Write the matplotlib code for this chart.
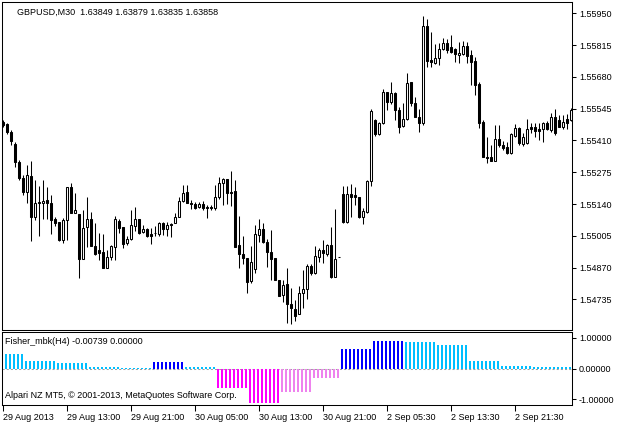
import numpy as np
import matplotlib
matplotlib.use("Agg")
import matplotlib.pyplot as plt

# GBPUSD M30 bars (open / high / low / close)
open_ = [
    1.55488, 1.55480, 1.55446, 1.55395, 1.55318, 1.55250, 1.55191, 1.55259,
    1.55085, 1.55144, 1.55144, 1.55157, 1.55144, 1.55076, 1.55063, 1.54987,
    1.55072, 1.55212, 1.55102, 1.55097, 1.54906, 1.55042, 1.55076, 1.54961,
    1.54944, 1.54936, 1.54868, 1.54915, 1.54957, 1.55068, 1.55042, 1.54974,
    1.54991, 1.55046, 1.55076, 1.55021, 1.55034, 1.55012, 1.55017, 1.55012,
    1.55059, 1.55034, 1.55055, 1.55059, 1.55085, 1.55153, 1.55191, 1.55144,
    1.55140, 1.55127, 1.55140, 1.55127, 1.55127, 1.55123, 1.55170, 1.55229,
    1.55246, 1.55191, 1.55195, 1.54966, 1.54927, 1.54910, 1.54813, 1.54864,
    1.55008, 1.55034, 1.54978, 1.54936, 1.54910, 1.54817, 1.54753, 1.54800,
    1.54715, 1.54694, 1.54672, 1.54762, 1.54779, 1.54876, 1.54847, 1.54915,
    1.54944, 1.54927, 1.54966, 1.54830, 1.54915, 1.55182, 1.55063, 1.55182,
    1.55178, 1.55170, 1.55085, 1.55106, 1.55238, 1.55497, 1.55437, 1.55484,
    1.55616, 1.55573, 1.55612, 1.55539, 1.55471, 1.55501, 1.55658, 1.55569,
    1.55510, 1.55484, 1.55896, 1.55752, 1.55739, 1.55760, 1.55799, 1.55824,
    1.55807, 1.55799, 1.55773, 1.55777, 1.55811, 1.55773, 1.55748, 1.55650,
    1.55488, 1.55340, 1.55340, 1.55323, 1.55416, 1.55391, 1.55382, 1.55357,
    1.55429, 1.55463, 1.55395, 1.55399, 1.55467, 1.55467, 1.55459, 1.55459,
    1.55484, 1.55454, 1.55510, 1.55497, 1.55467, 1.55501, 1.55497,
]
high = [
    1.55497, 1.55484, 1.55454, 1.55403, 1.55327, 1.55263, 1.55306, 1.55323,
    1.55242, 1.55216, 1.55242, 1.55212, 1.55178, 1.55085, 1.55063, 1.55080,
    1.55212, 1.55229, 1.55187, 1.55097, 1.55114, 1.55170, 1.55106, 1.55059,
    1.55017, 1.55012, 1.54944, 1.54966, 1.55089, 1.55076, 1.55042, 1.55004,
    1.55114, 1.55127, 1.55076, 1.55051, 1.55038, 1.55038, 1.55046, 1.55063,
    1.55063, 1.55063, 1.55059, 1.55102, 1.55170, 1.55221, 1.55221, 1.55157,
    1.55148, 1.55148, 1.55153, 1.55136, 1.55136, 1.55221, 1.55255, 1.55250,
    1.55246, 1.55280, 1.55242, 1.55089, 1.55004, 1.54910, 1.54961, 1.55051,
    1.55076, 1.55059, 1.54991, 1.55029, 1.54910, 1.54817, 1.54817, 1.54868,
    1.54783, 1.54732, 1.54791, 1.54859, 1.54885, 1.54885, 1.54961, 1.54953,
    1.54987, 1.54970, 1.55042, 1.55119, 1.54915, 1.55216, 1.55216, 1.55225,
    1.55212, 1.55170, 1.55123, 1.55242, 1.55544, 1.55501, 1.55488, 1.55629,
    1.55616, 1.55658, 1.55616, 1.55552, 1.55569, 1.55697, 1.55658, 1.55595,
    1.55544, 1.55939, 1.55926, 1.55871, 1.55820, 1.55824, 1.55845, 1.55841,
    1.55858, 1.55803, 1.55828, 1.55833, 1.55828, 1.55794, 1.55765, 1.55658,
    1.55497, 1.55425, 1.55391, 1.55476, 1.55476, 1.55408, 1.55403, 1.55442,
    1.55480, 1.55467, 1.55442, 1.55501, 1.55484, 1.55484, 1.55484, 1.55488,
    1.55493, 1.55527, 1.55544, 1.55518, 1.55518, 1.55522, 1.55548,
]
low = [
    1.55467, 1.55437, 1.55391, 1.55297, 1.55242, 1.55178, 1.55144, 1.54983,
    1.55072, 1.55004, 1.55076, 1.55076, 1.55012, 1.55046, 1.54983, 1.54974,
    1.54987, 1.55102, 1.55102, 1.54825, 1.54906, 1.54957, 1.54961, 1.54923,
    1.54902, 1.54868, 1.54868, 1.54902, 1.54902, 1.55017, 1.54953, 1.54966,
    1.54987, 1.55025, 1.55012, 1.55017, 1.55000, 1.54970, 1.55004, 1.55004,
    1.55008, 1.55004, 1.55000, 1.55059, 1.55085, 1.55148, 1.55144, 1.55119,
    1.55119, 1.55123, 1.55114, 1.55080, 1.55114, 1.55114, 1.55161, 1.55136,
    1.55140, 1.55131, 1.54957, 1.54868, 1.54885, 1.54762, 1.54804, 1.54847,
    1.54978, 1.54974, 1.54872, 1.54817, 1.54817, 1.54749, 1.54723, 1.54634,
    1.54630, 1.54643, 1.54672, 1.54698, 1.54736, 1.54838, 1.54842, 1.54893,
    1.54889, 1.54919, 1.54825, 1.54830, 1.54915, 1.55059, 1.55059, 1.55085,
    1.55136, 1.55080, 1.55055, 1.55102, 1.55216, 1.55429, 1.55433, 1.55480,
    1.55539, 1.55565, 1.55497, 1.55442, 1.55467, 1.55497, 1.55556, 1.55510,
    1.55446, 1.55476, 1.55722, 1.55722, 1.55735, 1.55731, 1.55794, 1.55782,
    1.55782, 1.55743, 1.55739, 1.55773, 1.55739, 1.55646, 1.55603, 1.55463,
    1.55340, 1.55314, 1.55323, 1.55323, 1.55382, 1.55369, 1.55352, 1.55352,
    1.55425, 1.55391, 1.55386, 1.55395, 1.55442, 1.55425, 1.55412, 1.55403,
    1.55454, 1.55446, 1.55433, 1.55467, 1.55459, 1.55459, 1.55493,
]
close = [
    1.55476, 1.55446, 1.55408, 1.55318, 1.55250, 1.55191, 1.55263, 1.55085,
    1.55144, 1.55148, 1.55153, 1.55144, 1.55072, 1.55059, 1.54987, 1.55072,
    1.55212, 1.55102, 1.55114, 1.54906, 1.55038, 1.55076, 1.54961, 1.54927,
    1.54932, 1.54868, 1.54915, 1.54961, 1.55076, 1.55038, 1.54970, 1.54991,
    1.55051, 1.55076, 1.55017, 1.55034, 1.55004, 1.55004, 1.55015, 1.55059,
    1.55034, 1.55051, 1.55051, 1.55085, 1.55153, 1.55187, 1.55144, 1.55140,
    1.55123, 1.55140, 1.55123, 1.55123, 1.55123, 1.55170, 1.55229, 1.55246,
    1.55187, 1.55187, 1.54957, 1.54927, 1.54910, 1.54808, 1.54893, 1.55012,
    1.55034, 1.54978, 1.54936, 1.54906, 1.54817, 1.54749, 1.54796, 1.54715,
    1.54698, 1.54664, 1.54762, 1.54779, 1.54876, 1.54847, 1.54919, 1.54944,
    1.54932, 1.54966, 1.54830, 1.54906, 1.54915, 1.55063, 1.55182, 1.55170,
    1.55170, 1.55085, 1.55110, 1.55238, 1.55535, 1.55437, 1.55484, 1.55616,
    1.55573, 1.55612, 1.55539, 1.55467, 1.55501, 1.55654, 1.55569, 1.55510,
    1.55484, 1.55896, 1.55748, 1.55743, 1.55760, 1.55799, 1.55824, 1.55794,
    1.55786, 1.55777, 1.55782, 1.55811, 1.55769, 1.55743, 1.55646, 1.55484,
    1.55340, 1.55335, 1.55323, 1.55416, 1.55391, 1.55378, 1.55357, 1.55437,
    1.55463, 1.55399, 1.55425, 1.55459, 1.55459, 1.55450, 1.55450, 1.55484,
    1.55459, 1.55510, 1.55442, 1.55467, 1.55488, 1.55484, 1.55539,
]

# Fisher_mbk(H4) value shown under every M30 bar
fisher = [
    0.48, 0.48, 0.48, 0.48, 0.48, 0.48,
    0.26, 0.26, 0.26, 0.26, 0.26, 0.26, 0.26, 0.26,
    0.17, 0.17, 0.17, 0.17, 0.17, 0.17, 0.17, 0.17,
    0.065, 0.065, 0.065, 0.065, 0.065, 0.065, 0.065, 0.065,
    0.03, 0.03, 0.03, 0.03, 0.03, 0.03, 0.03, 0.03,
    0.21, 0.21, 0.21, 0.21, 0.21, 0.21, 0.21, 0.21,
    0.035, 0.035, 0.035, 0.035, 0.035, 0.035, 0.035, 0.035,
    -0.64, -0.64, -0.64, -0.64, -0.64, -0.64, -0.64, -0.64,
    -1.13, -1.13, -1.13, -1.13, -1.13, -1.13, -1.13, -1.13,
    -0.77, -0.77, -0.77, -0.77, -0.77, -0.77, -0.77, -0.77,
    -0.31, -0.31, -0.31, -0.31, -0.31, -0.31, -0.31,
    0.63, 0.63, 0.63, 0.63, 0.63, 0.63, 0.63, 0.63,
    0.89, 0.89, 0.89, 0.89, 0.89, 0.89, 0.89, 0.89,
    0.86, 0.86, 0.86, 0.86, 0.86, 0.86, 0.86, 0.86,
    0.76, 0.76, 0.76, 0.76, 0.76, 0.76, 0.76, 0.76,
    0.25, 0.25, 0.25, 0.25, 0.25, 0.25, 0.25, 0.25,
    0.075, 0.075, 0.075, 0.075, 0.075, 0.075, 0.075, 0.075,
    0.04, 0.04, 0.04, 0.04, 0.04, 0.04, 0.04, 0.04, 0.04, 0.04,
]

price_ticks = [1.55950, 1.55815, 1.55680, 1.55545, 1.55410, 1.55275,
               1.55140, 1.55005, 1.54870, 1.54735]
time_pos = [0, 16, 32, 48, 64, 80, 96, 112, 128]
time_labels = ["29 Aug 2013", "29 Aug 13:00", "29 Aug 21:00", "30 Aug 05:00",
               "30 Aug 13:00", "30 Aug 21:00", "2 Sep 05:30", "2 Sep 13:30",
               "2 Sep 21:30"]

plt.rcParams["font.family"] = ["Liberation Sans", "DejaVu Sans"]
FS = 6.5
LW = 0.75

W, H = 621, 423
fig = plt.figure(figsize=(W / 100, H / 100), dpi=100)

def box(x0, y0, x1, y1):
    return [x0 / W, 1 - y1 / H, (x1 - x0) / W, (y1 - y0) / H]

ax = fig.add_axes(box(2, 2, 572, 330))
ax2 = fig.add_axes(box(2, 332, 572, 405))

# candles
o = np.array(open_)
c = np.array(close)
idx = np.arange(len(c))
ax.vlines(idx, low, high, color="black", lw=LW, zorder=1)
body_col = ["white" if cc >= oo else "black" for oo, cc in zip(o, c)]
ax.bar(idx, np.abs(c - o), bottom=np.minimum(o, c), width=0.5,
       color=body_col, edgecolor="black", linewidth=LW, zorder=2)

ax.set_xlim(-0.25, 142.25)
ax.set_ylim(1.546045, 1.559985)
ax.set_xticks([])
ax.yaxis.tick_right()
ax.set_yticks(price_ticks)
ax.set_yticklabels(["%.5f" % t for t in price_ticks])
ax.tick_params(axis="y", direction="out", length=3, width=LW, pad=2,
               labelsize=FS)

# indicator colours: blue rising / light blue falling, magenta falling / violet rising
cols = []
last = None
prev = None
for v in fisher:
    if last is not None and v != last:
        prev = last
    if prev is None:
        col = "#00BFFF"
    elif v >= 0:
        col = "#0000FF" if v > prev else "#00BFFF"
    else:
        col = "#FF00FF" if v < prev else "#EE82EE"
    cols.append(col)
    last = v

ax2.axhline(0, color="#A0A0A0", lw=LW, ls=(0, (2, 2)), zorder=1)
ax2.bar(idx - 0.25, fisher, width=0.5, color=cols, linewidth=0, zorder=2)
ax2.set_xlim(-0.25, 142.25)
ax2.set_ylim(-1.19, 1.19)
ax2.yaxis.tick_right()
ax2.set_yticks([1, 0, -1])
ax2.set_yticklabels(["1.00000", "0.00000", "-1.00000"])
ax2.tick_params(axis="y", direction="out", length=3, width=LW, pad=2,
                labelsize=FS)
ax2.set_xticks(time_pos)
ax2.set_xticklabels(time_labels)
ax2.tick_params(axis="x", direction="out", length=4, width=LW, pad=1.5,
                labelsize=FS)
for lbl in ax2.get_xticklabels():
    lbl.set_ha("left")

for a in (ax, ax2):
    for s in a.spines.values():
        s.set_linewidth(LW)

# texts
fig.text(17 / W, 1 - 12.5 / H, "GBPUSD,M30  1.63849 1.63879 1.63835 1.63858",
         fontsize=FS, va="center")
fig.text(5 / W, 1 - 341 / H, "Fisher_mbk(H4) -0.00739 0.00000",
         fontsize=FS, va="center")
fig.text(5 / W, 1 - 395 / H, "Alpari NZ MT5, \u00a9 2001-2013, MetaQuotes Software Corp.",
         fontsize=FS, va="center")

fig.savefig("out.png", dpi=100)
